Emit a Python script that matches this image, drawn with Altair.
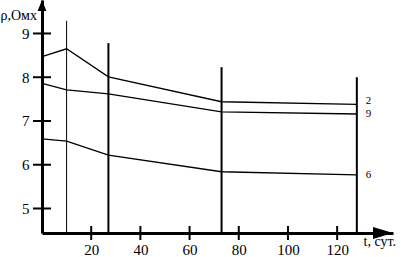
import altair as alt
import pandas as pd

# ---- data ----
t_points = [0, 10, 27, 73, 128]
rho_2 = [8.47, 8.65, 8.01, 7.44, 7.38]
rho_9 = [7.86, 7.71, 7.62, 7.21, 7.16]
rho_6 = [6.59, 6.54, 6.22, 5.84, 5.77]
series_names = ["2", "9", "6"]

vline_t = [10, 27, 73, 128]
vline_top = [9.29, 8.78, 8.23, 8.00]

x_ticks = [20, 40, 60, 80, 100, 120]
y_ticks = [5, 6, 7, 8, 9]

Y_MIN, Y_MAX = 4.44, 9.765
X_MIN, X_MAX = 0, 142.7

FONT = "Liberation Serif"
W, H = 351, 233

# ---- tables ----
rows = []
for name, vals in zip(series_names, [rho_2, rho_9, rho_6]):
    for t, v in zip(t_points, vals):
        rows.append({"series": name, "t": t, "rho": v})
lines_df = pd.DataFrame(rows)
labels_df = pd.DataFrame({"series": series_names, "t": [t_points[-1]] * 3,
                          "rho": [rho_2[-1], rho_9[-1], rho_6[-1]]})
vl_df = pd.DataFrame({"t": vline_t, "rho": vline_top, "base": [Y_MIN] * len(vline_t)})
xt_df = pd.DataFrame({"t": x_ticks, "rho": [Y_MIN] * len(x_ticks)})
yt_df = pd.DataFrame({"t": [X_MIN] * len(y_ticks), "rho": y_ticks})
xarrow_df = pd.DataFrame({"t": [X_MAX], "rho": [Y_MIN]})
yarrow_df = pd.DataFrame({"t": [X_MIN], "rho": [Y_MAX]})

xs = alt.Scale(domain=[X_MIN, X_MAX], nice=False, zero=False)
ys = alt.Scale(domain=[Y_MIN, Y_MAX], nice=False, zero=False)

x_axis = alt.Axis(values=x_ticks, title="t, сут.", grid=False, ticks=False, tickSize=0,
                  labelFont=FONT, labelFontSize=15, labelColor="black", labelPadding=9,
                  labelFlush=False, domainColor="black", domainWidth=3,
                  titleFont=FONT, titleFontSize=14, titleFontWeight="normal", titleColor="black",
                  titleAnchor="start", titleAlign="left", titleBaseline="alphabetic",
                  titleX=321, titleY=12)
y_axis = alt.Axis(values=y_ticks, title="ρ,Омх", grid=False, ticks=False, tickSize=0,
                  labelFont=FONT, labelFontSize=15, labelColor="black", labelPadding=13,
                  labelFlush=False, domainColor="black", domainWidth=3,
                  titleFont=FONT, titleFontSize=14, titleFontWeight="normal", titleColor="black",
                  titleAngle=0, titleAlign="left", titleBaseline="alphabetic",
                  titleX=-42, titleY=19)

X = lambda f: alt.X(f, type="quantitative", scale=xs, axis=x_axis)
Y = lambda f: alt.Y(f, type="quantitative", scale=ys, axis=y_axis)

curves = alt.Chart(lines_df).mark_line(color="black", strokeWidth=1.3).encode(
    x=X("t"), y=Y("rho"), detail="series:N")

label_top = alt.Chart(labels_df.iloc[:1]).mark_text(
    align="left", baseline="alphabetic", dx=9, dy=0,
    font=FONT, fontSize=11, color="black").encode(x=X("t"), y=Y("rho"), text="series:N")
label_rest = alt.Chart(labels_df.iloc[1:]).mark_text(
    align="left", baseline="middle", dx=9, dy=0,
    font=FONT, fontSize=11, color="black").encode(x=X("t"), y=Y("rho"), text="series:N")

vthin = alt.Chart(vl_df.iloc[:1]).mark_rule(color="black", strokeWidth=1).encode(
    x=X("t"), y=Y("rho"), y2="base")
vthick = alt.Chart(vl_df.iloc[1:]).mark_rule(color="black", strokeWidth=2).encode(
    x=X("t"), y=Y("rho"), y2="base")

xticks = alt.Chart(xt_df).mark_tick(orient="vertical", size=14, thickness=2,
                                    color="black", opacity=1).encode(x=X("t"), y=Y("rho"))
yticks = alt.Chart(yt_df).mark_tick(orient="horizontal", size=18, thickness=2,
                                    color="black", opacity=1).encode(x=X("t"), y=Y("rho"))

xarrow = alt.Chart(xarrow_df).mark_point(shape="M-2,-0.6L0,0L-2,0.6Z", size=400, filled=True,
                                         color="black", opacity=1, strokeWidth=0).encode(
    x=X("t"), y=Y("rho"))
yarrow = alt.Chart(yarrow_df).mark_point(shape="M-0.8,2L0,0L0.8,2Z", size=121, filled=True,
                                         color="black", opacity=1, strokeWidth=0).encode(
    x=X("t"), y=Y("rho"))

chart = alt.layer(vthin, vthick, curves, label_top, label_rest, xticks, yticks, xarrow, yarrow).properties(
    width=W, height=H,
    padding={"left": 42, "top": 0, "right": 8, "bottom": 24},
    autosize=alt.AutoSizeParams(type="none"),
    background="white",
).configure(font=FONT).configure_axis(
    labelFont=FONT, titleFont=FONT
).configure_view(stroke=None)

chart.save("out.html", embed_options={"renderer": "svg", "actions": False})
